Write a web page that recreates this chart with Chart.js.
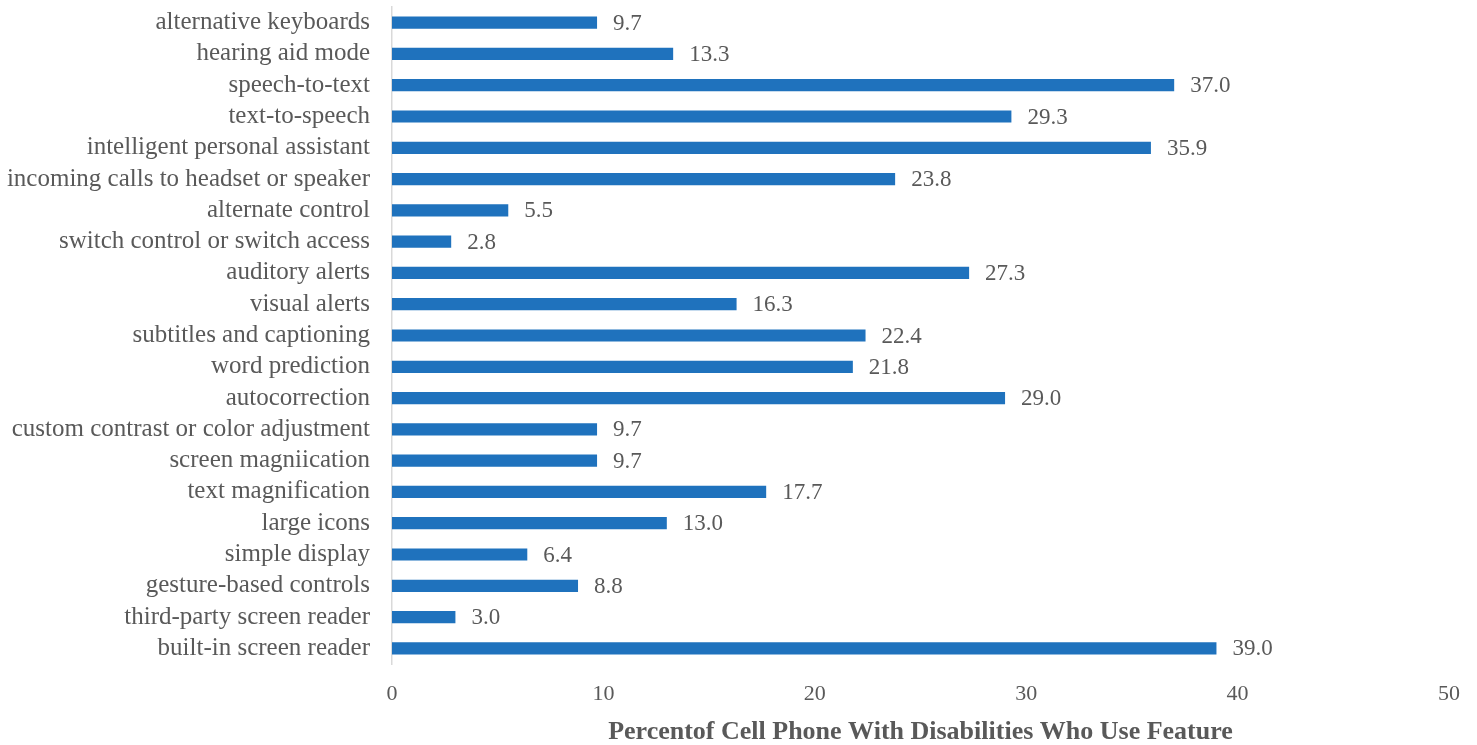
<!DOCTYPE html>
<html>
<head>
<meta charset="utf-8">
<script src="https://cdn.jsdelivr.net/npm/chart.js@4/dist/chart.umd.min.js"></script>
<style>
  html, body { margin: 0; padding: 0; background: #fff; }
  #wrap { position: relative; width: 1477px; height: 745px; }
</style>
</head>
<body>
<div id="wrap"><canvas id="chart"></canvas></div>
<script>
// feature names, top to bottom as shown
const features = [
  "alternative keyboards",
  "hearing aid mode",
  "speech-to-text",
  "text-to-speech",
  "intelligent personal assistant",
  "incoming calls to headset or speaker",
  "alternate control",
  "switch control or switch access",
  "auditory alerts",
  "visual alerts",
  "subtitles and captioning",
  "word prediction",
  "autocorrection",
  "custom contrast or color adjustment",
  "screen magniication",
  "text magnification",
  "large icons",
  "simple display",
  "gesture-based controls",
  "third-party screen reader",
  "built-in screen reader",
];

const percentUsing = [
  9.7, 13.3, 37.0, 29.3, 35.9, 23.8, 5.5, 2.8, 27.3, 16.3, 22.4,
  21.8, 29.0, 9.7, 9.7, 17.7, 13.0, 6.4, 8.8, 3.0, 39.0,
];

const xTicks = [0, 10, 20, 30, 40, 50];

const FONT = "'Liberation Serif', 'DejaVu Serif', serif";
const TEXT = "#595959";

// value labels at the end of each bar
const valueLabels = {
  id: "valueLabels",
  afterDatasetsDraw(chart) {
    const { ctx } = chart;
    const meta = chart.getDatasetMeta(0);
    ctx.save();
    ctx.font = "23px " + FONT;
    ctx.fillStyle = TEXT;
    ctx.textAlign = "left";
    ctx.textBaseline = "middle";
    meta.data.forEach((bar, i) => {
      ctx.fillText(percentUsing[i].toFixed(1), bar.x + 16, bar.y + 1);
    });
    ctx.restore();
  },
};

new Chart(document.getElementById("chart"), {
  type: "bar",
  data: {
    labels: features,
    datasets: [
      {
        data: percentUsing,
        backgroundColor: "#1F72BD",
        barPercentage: 0.39,
        categoryPercentage: 1,
      },
    ],
  },
  options: {
    indexAxis: "y",
    responsive: true,
    maintainAspectRatio: false,
    animation: false,
    layout: { padding: { top: 7, right: 28, left: 0, bottom: 0 } },
    plugins: {
      legend: { display: false },
      tooltip: { enabled: false },
    },
    scales: {
      x: {
        min: 0,
        max: 50,
        afterBuildTicks: (s) => { s.ticks = xTicks.map((v) => ({ value: v })); },
        afterFit: (s) => { s.height = 81; },
        grid: { display: false, drawTicks: false },
        border: { display: false },
        ticks: {
          color: TEXT,
          font: { family: FONT, size: 22 },
          padding: 17,
          maxRotation: 0,
        },
        title: {
          display: true,
          text: "Percentof Cell Phone With Disabilities Who Use Feature",
          color: TEXT,
          font: { family: FONT, size: 26, weight: "bold" },
          padding: { top: 4, bottom: -3 },
        },
      },
      y: {
        afterFit: (s) => {
          s.width = 392;
          s.paddingTop = 0;
          s.paddingBottom = 0;
        },
        grid: { display: false, drawTicks: false },
        border: { display: true, color: "#D9D9D9", width: 1.5 },
        ticks: {
          color: TEXT,
          font: { family: FONT, size: 25 },
          padding: 22,
          autoSkip: false,
        },
      },
    },
  },
  plugins: [valueLabels],
});
</script>
</body>
</html>
